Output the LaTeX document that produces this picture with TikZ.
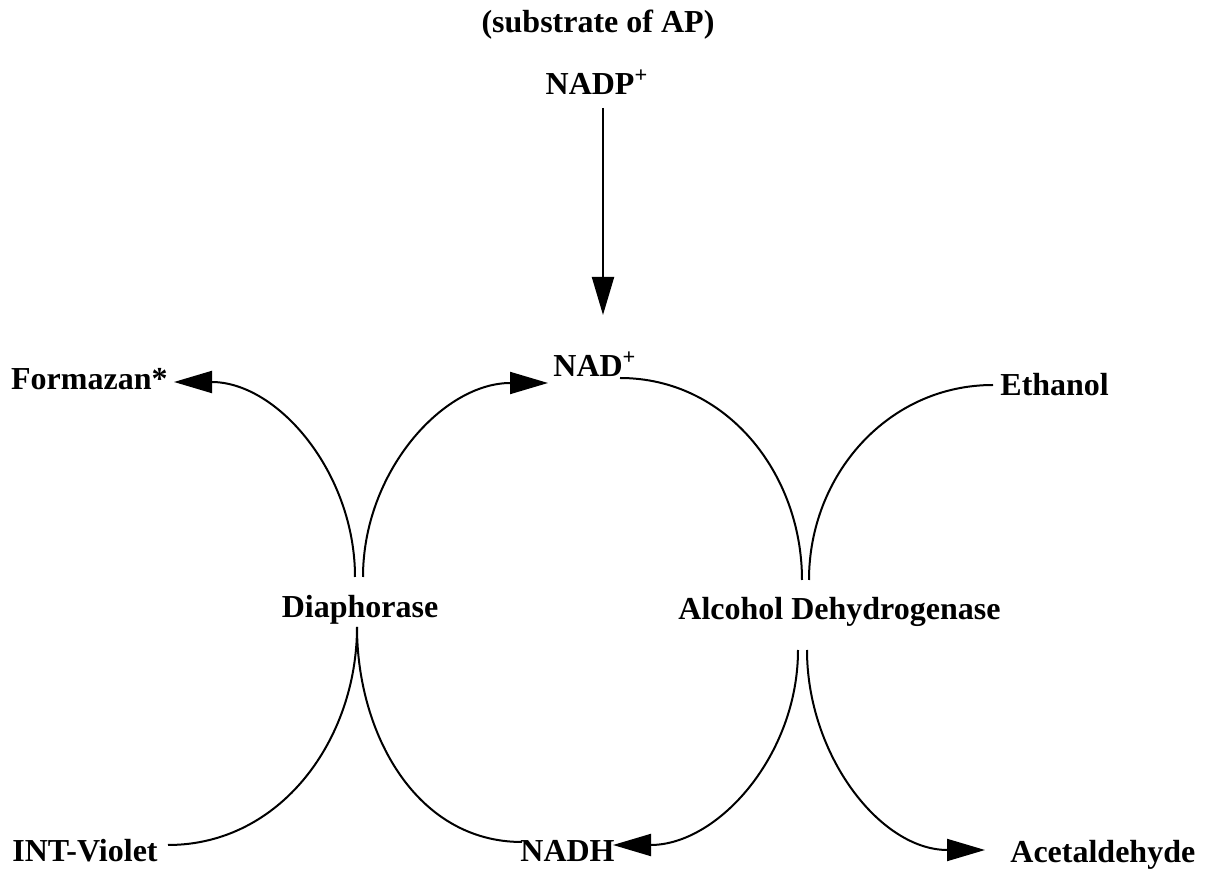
\documentclass[tikz,border=0pt]{standalone}
\usepackage{fontspec}
\setmainfont{Liberation Serif}
\usetikzlibrary{arrows.meta}
\begin{document}
\begin{tikzpicture}[x=0.5pt,y=0.5pt,
  lbl/.style={inner sep=0pt,font=\fontsize{16}{19}\selectfont\bfseries},
  link/.style={line width=1pt},
  flow/.style={line width=1pt,-{Triangle[length=19pt,width=11pt]}}]
\useasboundingbox (0,0) rectangle (1206,-876);

% labels (baseline positions)
\node[lbl,anchor=base] (sub) at (598,-33) {(substrate of AP)};
\node[lbl,anchor=base] (nadp) at (597,-95) {NADP\textsuperscript{+}};
\node[lbl,anchor=base west] (nad) at (553,-377) {NAD\textsuperscript{+}};
\node[lbl,anchor=base east] (form) at (168,-390) {Formazan*};
\node[lbl,anchor=base west] (eth) at (1000,-396) {Ethanol};
\node[lbl,anchor=base] (dia) at (360,-618) {Diaphorase};
\node[lbl,anchor=base west] (adh) at (678,-620) {Alcohol Dehydrogenase};
\node[lbl,anchor=base west] (intv) at (12,-862) {INT-Violet};
\node[lbl,anchor=base west] (nadh) at (520,-862) {NADH};
\node[lbl,anchor=base west] (acet) at (1010,-863) {Acetaldehyde};

% end points of the connectors
\coordinate (nadpB) at (603,-108);
\coordinate (nadT) at (603,-315);
\coordinate (nadL) at (548,-383);
\coordinate (nadR) at (620,-378);
\coordinate (formR) at (174,-382);
\coordinate (ethL) at (993,-385);
\coordinate (diaTL) at (355,-577);
\coordinate (diaTR) at (363,-577);
\coordinate (diaB) at (357,-627);
\coordinate (adhTL) at (802,-580);
\coordinate (adhTR) at (809,-580);
\coordinate (adhBL) at (798,-650);
\coordinate (adhBR) at (807,-650);
\coordinate (intvR) at (168,-845);
\coordinate (nadhL) at (522,-842);
\coordinate (nadhR) at (613,-845);
\coordinate (acetL) at (985,-850);

% NADP+ feeds the NAD+ pool
\draw[flow] (nadpB) -- (nadT);

% diaphorase reaction
\draw[flow] (diaTL) to[out=90,in=0] (formR);
\draw[flow] (diaTR) to[out=90,in=180] (nadL);
\draw[link] (diaB) to[out=-90,in=0] (intvR);
\draw[link] (diaB) to[out=-90,in=180] (nadhL);

% alcohol dehydrogenase reaction
\draw[link] (nadR) to[out=0,in=90] (adhTL);
\draw[link] (ethL) to[out=180,in=90] (adhTR);
\draw[flow] (adhBL) to[out=-90,in=0] (nadhR);
\draw[flow] (adhBR) to[out=-90,in=180] (acetL);
\end{tikzpicture}
\end{document}
